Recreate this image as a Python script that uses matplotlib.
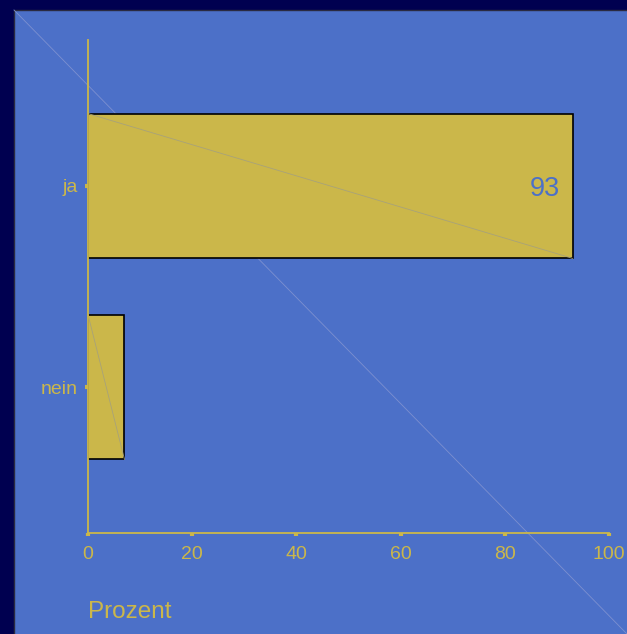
import matplotlib
matplotlib.use("Agg")
import matplotlib.pyplot as plt
from matplotlib.patches import Rectangle
from matplotlib.lines import Line2D

plt.rcParams['font.family'] = ['Liberation Sans', 'DejaVu Sans']

# data
categories = ["nein", "ja"]
values = [7, 93]
labels_shown = {"ja": "93"}
x_ticks = [0, 20, 40, 60, 80, 100]

outer_bg = "#000050"
panel_bg = "#4c70c8"
bar_color = "#cbb74a"
text_color = "#cbb74a"

W, H = 627, 634
fig = plt.figure(figsize=(W / 100, H / 100), dpi=100)
fig.patch.set_facecolor(outer_bg)

# inner blue panel with its diagonal (behind the axes)
fig.patches.append(Rectangle((14 / W, -0.05), 1.1, 1.05 - 10 / H, transform=fig.transFigure,
                             facecolor=panel_bg, edgecolor="#2a2a40", linewidth=1.0, zorder=-3))
fig.lines.append(Line2D([14 / W, 1], [1 - 10 / H, 0], transform=fig.transFigure,
                        color="#7d90d0", linewidth=0.6, zorder=-2))

ax = fig.add_axes([88 / W, 1 - 533 / H, (609 - 88) / W, (533 - 40) / H])
ax.set_facecolor("none")

pos = list(range(len(categories)))
bar_h = 0.72
ax.barh(pos, values, height=bar_h, color=bar_color, edgecolor="black", linewidth=1.2, zorder=2)

# diagonal inside each bar
for p, v in zip(pos, values):
    ax.plot([0, v], [p + bar_h / 2, p - bar_h / 2], color="#a8a27a", linewidth=0.6, zorder=3)

for p, c, v in zip(pos, categories, values):
    if c in labels_shown:
        ax.annotate(labels_shown[c], xy=(v, p), xytext=(-9, 0), textcoords="offset points",
                    ha="right", va="center_baseline", fontsize=19.5, color=panel_bg, zorder=4)

ax.set_xlim(0, 100)
ax.set_ylim(-0.726, 1.726)
ax.set_xticks(x_ticks)
ax.set_yticks(pos)
ax.set_yticklabels(categories)

for s in ["top", "right"]:
    ax.spines[s].set_visible(False)
for s in ["left", "bottom"]:
    ax.spines[s].set_color(text_color)
    ax.spines[s].set_linewidth(1.3)
    ax.spines[s].set_zorder(5)

ax.tick_params(axis="both", colors=text_color, labelsize=14, length=2.2, width=3.0, pad=5)
ax.tick_params(axis="x", pad=7)

fig.text(88 / W, 1 - 618 / H, "Prozent", ha="left", va="baseline", fontsize=17.5, color=text_color)

fig.savefig("out.png", dpi=100, facecolor=fig.get_facecolor())
